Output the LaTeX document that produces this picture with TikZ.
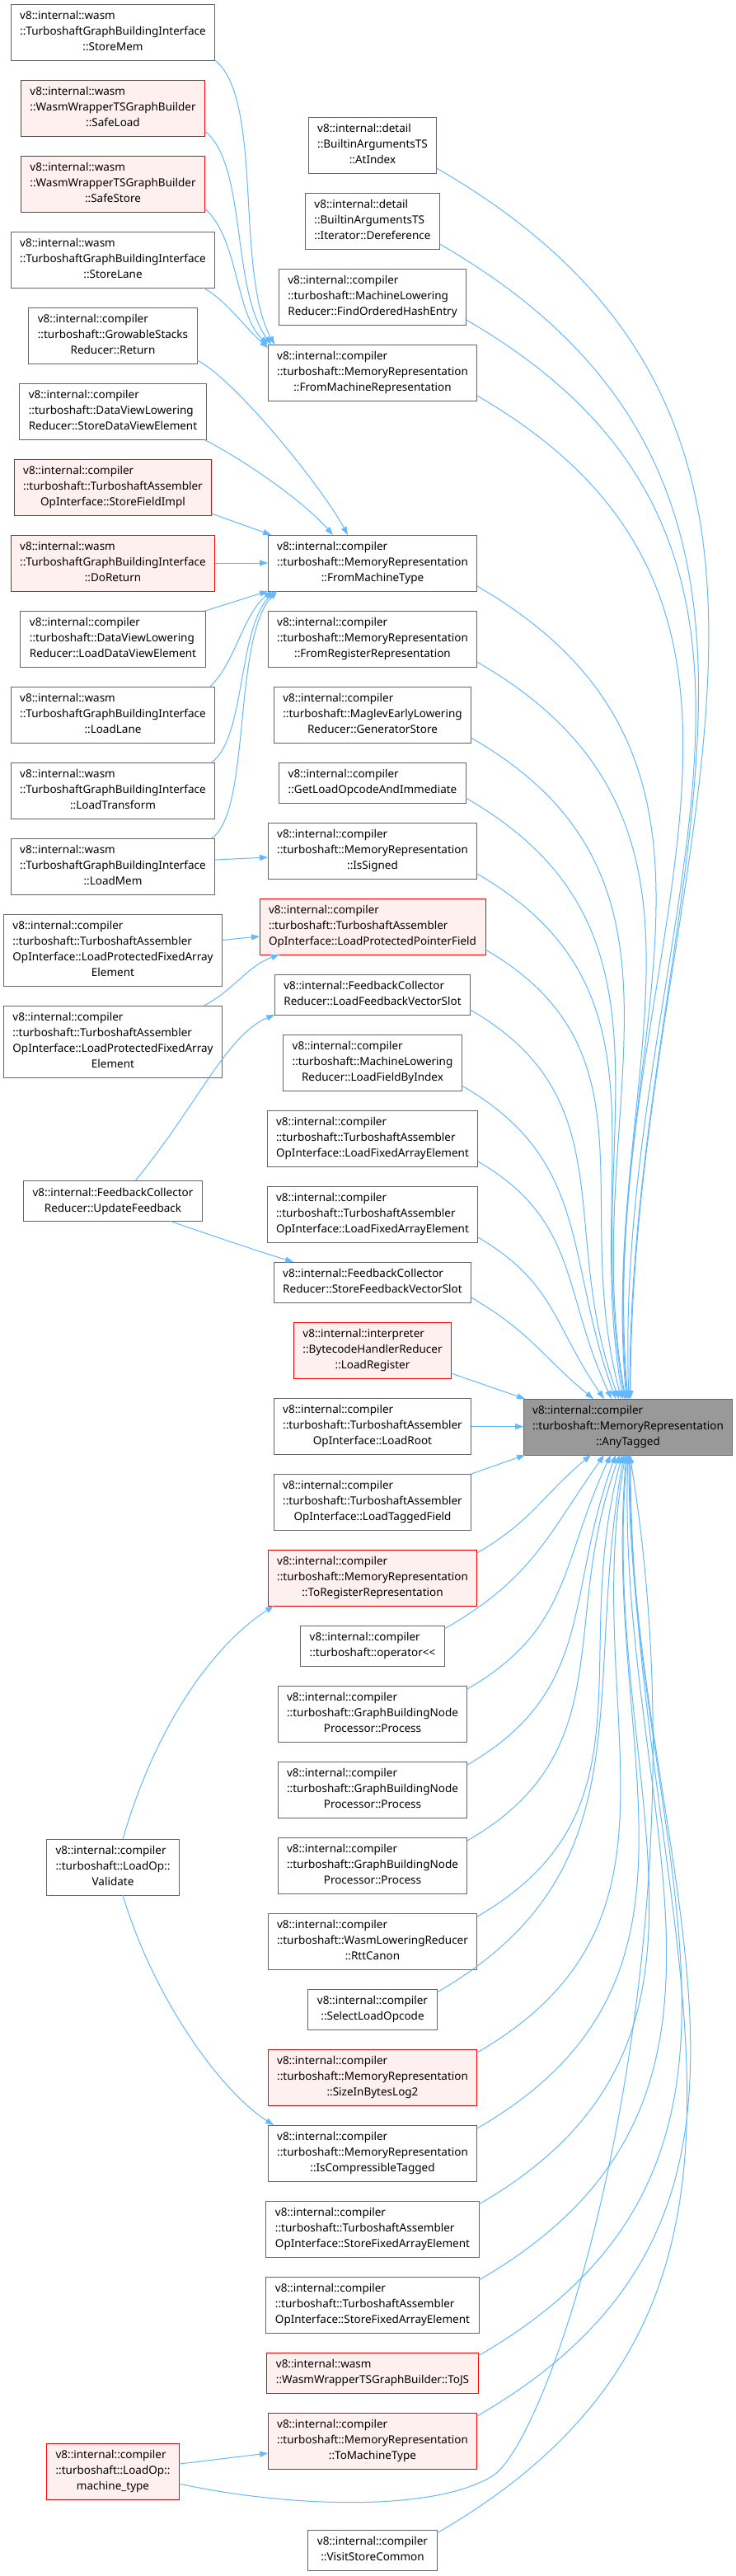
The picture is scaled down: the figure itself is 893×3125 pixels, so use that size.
\documentclass[tikz,border=0pt]{standalone}
\usepackage{fontspec}
\usepackage{tikz}
\usetikzlibrary{arrows.meta,positioning}
\newfontfamily\dotfont{Noto Sans}
\definecolor{callblue}{HTML}{63B8FF}
\definecolor{boxline}{HTML}{666666}
\definecolor{cutfill}{HTML}{FFF0F0}
\definecolor{focusfill}{HTML}{999999}
\newcommand\lbl[2]{\begin{tabular}{@{}l@{}}#1\\\multicolumn{1}{@{}c@{}}{#2}\end{tabular}}

\begin{document}
\begin{tikzpicture}[x=1pt,y=-1pt,
  >={Triangle[length=10pt,width=7pt]},
  fnbox/.style={draw=boxline,fill=white,line width=1pt,outer sep=0pt,inner xsep=11pt,inner ysep=5.5pt,
                font={\dotfont\fontsize{13.5}{19}\selectfont}},
  cutbox/.style={fnbox,draw=red,fill=cutfill},
  focusbox/.style={fnbox,fill=focusfill},
  callarrow/.style={->,draw=callblue,line width=1pt}
]
\path[use as bounding box,fill=white] (0,0) rectangle (893,3125);

% callers of the callers
\node[fnbox] (storemem) at (137,39) {\lbl{v8::internal::wasm\\::TurboshaftGraphBuildingInterface}{::StoreMem}};
\node[cutbox,below=24pt of storemem] (safeload) {\lbl{v8::internal::wasm\\::WasmWrapperTSGraphBuilder}{::SafeLoad}};
\node[cutbox,below=24pt of safeload] (safestore) {\lbl{v8::internal::wasm\\::WasmWrapperTSGraphBuilder}{::SafeStore}};
\node[fnbox,below=24pt of safestore] (storelane) {\lbl{v8::internal::wasm\\::TurboshaftGraphBuildingInterface}{::StoreLane}};
\node[fnbox,below=24pt of storelane] (growret) {\lbl{v8::internal::compiler\\::turboshaft::GrowableStacks}{Reducer::Return}};
\node[fnbox,below=24pt of growret] (storedv) {\lbl{v8::internal::compiler\\::turboshaft::DataViewLowering}{Reducer::StoreDataViewElement}};
\node[cutbox,below=24pt of storedv] (storefield) {\lbl{v8::internal::compiler\\::turboshaft::TurboshaftAssembler}{OpInterface::StoreFieldImpl}};
\node[cutbox,below=24pt of storefield] (doreturn) {\lbl{v8::internal::wasm\\::TurboshaftGraphBuildingInterface}{::DoReturn}};
\node[fnbox,below=24pt of doreturn] (loaddv) {\lbl{v8::internal::compiler\\::turboshaft::DataViewLowering}{Reducer::LoadDataViewElement}};
\node[fnbox,below=24pt of loaddv] (loadlane) {\lbl{v8::internal::wasm\\::TurboshaftGraphBuildingInterface}{::LoadLane}};
\node[fnbox,below=24pt of loadlane] (loadtransform) {\lbl{v8::internal::wasm\\::TurboshaftGraphBuildingInterface}{::LoadTransform}};
\node[fnbox,below=24pt of loadtransform] (loadmem) {\lbl{v8::internal::wasm\\::TurboshaftGraphBuildingInterface}{::LoadMem}};
\node[fnbox,below=24pt of loadmem] (lpfae1) {\lbl{v8::internal::compiler\\::turboshaft::TurboshaftAssembler\\OpInterface::LoadProtectedFixedArray}{Element}};
\node[fnbox,below=24pt of lpfae1] (lpfae2) {\lbl{v8::internal::compiler\\::turboshaft::TurboshaftAssembler\\OpInterface::LoadProtectedFixedArray}{Element}};
\node[fnbox] (updatefb) at (137,1457) {\lbl{v8::internal::FeedbackCollector}{Reducer::UpdateFeedback}};
\node[fnbox] (validate) at (137,2265) {\lbl{v8::internal::compiler\\::turboshaft::LoadOp::}{Validate}};
\node[cutbox] (mtype) at (137,2998) {\lbl{v8::internal::compiler\\::turboshaft::LoadOp::}{machine\_type}};

% direct callers
\node[fnbox] (atindex) at (452,176) {\lbl{v8::internal::detail\\::BuiltinArgumentsTS}{::AtIndex}};
\node[fnbox,below=24pt of atindex] (deref) {\lbl{v8::internal::detail\\::BuiltinArgumentsTS}{::Iterator::Dereference}};
\node[fnbox,below=24pt of deref] (findhash) {\lbl{v8::internal::compiler\\::turboshaft::MachineLowering}{Reducer::FindOrderedHashEntry}};
\node[fnbox,below=24pt of findhash] (frommrep) {\lbl{v8::internal::compiler\\::turboshaft::MemoryRepresentation}{::FromMachineRepresentation}};
\node[fnbox] (frommtype) at (452,683) {\lbl{v8::internal::compiler\\::turboshaft::MemoryRepresentation}{::FromMachineType}};
\node[fnbox,below=24pt of frommtype] (fromrrep) {\lbl{v8::internal::compiler\\::turboshaft::MemoryRepresentation}{::FromRegisterRepresentation}};
\node[fnbox,below=24pt of fromrrep] (genstore) {\lbl{v8::internal::compiler\\::turboshaft::MaglevEarlyLowering}{Reducer::GeneratorStore}};
\node[fnbox,below=24pt of genstore] (getload) {\lbl{v8::internal::compiler}{::GetLoadOpcodeAndImmediate}};
\node[fnbox,below=24pt of getload] (issigned) {\lbl{v8::internal::compiler\\::turboshaft::MemoryRepresentation}{::IsSigned}};
\node[cutbox,below=24pt of issigned] (lppf) {\lbl{v8::internal::compiler\\::turboshaft::TurboshaftAssembler}{OpInterface::LoadProtectedPointerField}};
\node[fnbox,below=24pt of lppf] (loadfvs) {\lbl{v8::internal::FeedbackCollector}{Reducer::LoadFeedbackVectorSlot}};
\node[fnbox,below=24pt of loadfvs] (loadfbi) {\lbl{v8::internal::compiler\\::turboshaft::MachineLowering}{Reducer::LoadFieldByIndex}};
\node[fnbox,below=24pt of loadfbi] (lfae1) {\lbl{v8::internal::compiler\\::turboshaft::TurboshaftAssembler}{OpInterface::LoadFixedArrayElement}};
\node[fnbox,below=24pt of lfae1] (lfae2) {\lbl{v8::internal::compiler\\::turboshaft::TurboshaftAssembler}{OpInterface::LoadFixedArrayElement}};
\node[fnbox,below=24pt of lfae2] (storefvs) {\lbl{v8::internal::FeedbackCollector}{Reducer::StoreFeedbackVectorSlot}};
\node[cutbox,below=24pt of storefvs] (loadreg) {\lbl{v8::internal::interpreter\\::BytecodeHandlerReducer}{::LoadRegister}};
\node[fnbox,below=24pt of loadreg] (loadroot) {\lbl{v8::internal::compiler\\::turboshaft::TurboshaftAssembler}{OpInterface::LoadRoot}};
\node[fnbox,below=24pt of loadroot] (loadtagged) {\lbl{v8::internal::compiler\\::turboshaft::TurboshaftAssembler}{OpInterface::LoadTaggedField}};
\node[cutbox,below=24pt of loadtagged] (toregrep) {\lbl{v8::internal::compiler\\::turboshaft::MemoryRepresentation}{::ToRegisterRepresentation}};
\node[fnbox,below=24pt of toregrep] (opout) {\lbl{v8::internal::compiler}{::turboshaft::operator<<}};
\node[fnbox,below=24pt of opout] (proc1) {\lbl{v8::internal::compiler\\::turboshaft::GraphBuildingNode}{Processor::Process}};
\node[fnbox,below=24pt of proc1] (proc2) {\lbl{v8::internal::compiler\\::turboshaft::GraphBuildingNode}{Processor::Process}};
\node[fnbox,below=24pt of proc2] (proc3) {\lbl{v8::internal::compiler\\::turboshaft::GraphBuildingNode}{Processor::Process}};
\node[fnbox,below=24pt of proc3] (rttcanon) {\lbl{v8::internal::compiler\\::turboshaft::WasmLoweringReducer}{::RttCanon}};
\node[fnbox,below=24pt of rttcanon] (selload) {\lbl{v8::internal::compiler}{::SelectLoadOpcode}};
\node[cutbox,below=24pt of selload] (sizelog) {\lbl{v8::internal::compiler\\::turboshaft::MemoryRepresentation}{::SizeInBytesLog2}};
\node[fnbox,below=24pt of sizelog] (iscomp) {\lbl{v8::internal::compiler\\::turboshaft::MemoryRepresentation}{::IsCompressibleTagged}};
\node[fnbox,below=24pt of iscomp] (sfae1) {\lbl{v8::internal::compiler\\::turboshaft::TurboshaftAssembler}{OpInterface::StoreFixedArrayElement}};
\node[fnbox,below=24pt of sfae1] (sfae2) {\lbl{v8::internal::compiler\\::turboshaft::TurboshaftAssembler}{OpInterface::StoreFixedArrayElement}};
\node[cutbox,below=24pt of sfae2] (tojs) {\lbl{v8::internal::wasm}{::WasmWrapperTSGraphBuilder::ToJS}};
\node[cutbox,below=24pt of tojs] (tomtype) {\lbl{v8::internal::compiler\\::turboshaft::MemoryRepresentation}{::ToMachineType}};
\node[fnbox,below=74pt of tomtype] (visitstore) {\lbl{v8::internal::compiler}{::VisitStoreCommon}};

\node[focusbox] (any) at (762,1731) {\lbl{v8::internal::compiler\\::turboshaft::MemoryRepresentation}{::AnyTagged}};

% outer column into the middle column
\draw[callarrow] (storemem.south east) .. controls (320,120) and (285,330) .. ([xshift=8pt]frommrep.north west);
\draw[callarrow] ([yshift=6pt]safeload.south east) .. controls (300,200) and (280,350) .. ([xshift=4pt]frommrep.north west);
\draw[callarrow] ([yshift=4pt]safestore.south east) .. controls (290,290) and (285,380) .. (frommrep.north west);
\draw[callarrow] ([xshift=-14pt]storelane.south east) .. controls (275,365) and (295,395) .. ([yshift=-4pt]frommrep.north west);
\draw[callarrow] ([yshift=4pt]growret.south east) .. controls (285,460) and (390,590) .. ([xshift=-30pt]frommtype.north);
\draw[callarrow] ([xshift=-3pt]storedv.south east) .. controls (300,560) and (370,610) .. ([xshift=-48pt]frommtype.north);
\draw[callarrow] ([yshift=2pt]storefield.south east) -- ([xshift=4pt]frommtype.north west);
\draw[callarrow] (doreturn) -- (frommtype);
\draw[callarrow] (loaddv.north east) -- (frommtype.south west);
\draw[callarrow] ([xshift=-6pt]loadlane.north east) .. controls (285,805) and (295,745) .. ([xshift=5pt]frommtype.south west);
\draw[callarrow] ([xshift=-4pt]loadtransform.north east) .. controls (298,895) and (288,765) .. ([xshift=8pt]frommtype.south west);
\draw[callarrow] ([xshift=-4pt]loadmem.north east) .. controls (305,985) and (282,775) .. ([xshift=11pt]frommtype.south west);
\draw[callarrow] ([yshift=8pt]loadmem.east) -- ([yshift=-8pt]issigned.west);
\draw[callarrow] ([yshift=12pt]lpfae1.east) -- ([yshift=-12pt]lppf.west);
\draw[callarrow] ([xshift=-22pt]lpfae2.north east) .. controls (285,1200) and (300,1172) .. ([xshift=24pt]lppf.south west);
\draw[callarrow] ([xshift=27pt]updatefb.north) .. controls (240,1340) and (275,1255) .. (loadfvs.south west);
\draw[callarrow] ([xshift=70pt]updatefb.south) .. controls (260,1500) and (320,1520) .. ([xshift=24pt]storefvs.north west);
\draw[callarrow] ([xshift=12pt]validate.north) .. controls (190,2090) and (260,1995) .. ([xshift=7pt]toregrep.south west);
\draw[callarrow] ([xshift=12pt]validate.south) .. controls (185,2420) and (265,2535) .. ([xshift=7pt]iscomp.north west);
\draw[callarrow] ([yshift=9pt]mtype.east) -- ([yshift=-15pt]tomtype.west);

% middle column into AnyTagged
\foreach \src/\dx/\ax/\ay/\bx/\by in {atindex/3/563/325/0/-650, deref/2/528/305/0/-610,
    findhash/1/493/285/-20/-569, frommrep/0/458/265/-46/-527, frommtype/-1/373/216/-38/-429,
    fromrrep/-2/340/196/-34/-390, genstore/-3/307/177/-61/-349, getload/-4/281/162/-56/-319,
    issigned/-6/246/142/-49/-280, lppf/-8/212/123/-63/-237, loadfvs/-11/189/109/-75/-205,
    loadfbi/-15/158/91/-62/-171, lfae1/-20/123/71/-60/-129, lfae2/-29/93/54/-61/-88,
    storefvs/-42/72/42/-64/-53}
  \draw[callarrow] ([yshift=6pt]\src.south east) .. controls +(\ax,\ay) and +(\bx,\by) .. ([xshift=\dx pt]any.north);
\draw[callarrow] ([yshift=6pt]loadreg.south east) -- ([xshift=2pt]any.north west);
\draw[callarrow] (loadroot) -- (any);
\draw[callarrow] (loadtagged.north east) -- ([xshift=2pt]any.south west);
\foreach \src/\dx/\ax/\ay/\bx/\by in {toregrep/-45/68/-40/-61/51, opout/-29/107/-62/-71/101,
    proc1/-21/126/-73/-61/131, proc2/-15/157/-91/-62/170, proc3/-10/189/-109/-75/205,
    rttcanon/-7/220/-127/-66/245, selload/-5/258/-149/-52/293, sizelog/-3/280/-162/-56/318,
    iscomp/-2/313/-181/-31/360, sfae1/-1/346/-200/-35/398, sfae2/0/380/-220/-15/439,
    tojs/1/414/-239/0/478, tomtype/2/441/-255/0/509, visitstore/3/496/-287/0/573}
  \draw[callarrow] ([yshift=-4pt]\src.north east) .. controls +(\ax,\ay) and +(\bx,\by) .. ([xshift=\dx pt]any.south);
\draw[callarrow] ([yshift=-15pt]mtype.east) .. controls (350,3042) and (530,3048) .. (600,3002)
  .. controls (680,2940) and (860,2350) .. ([xshift=2pt]any.south);
\end{tikzpicture}
\end{document}
